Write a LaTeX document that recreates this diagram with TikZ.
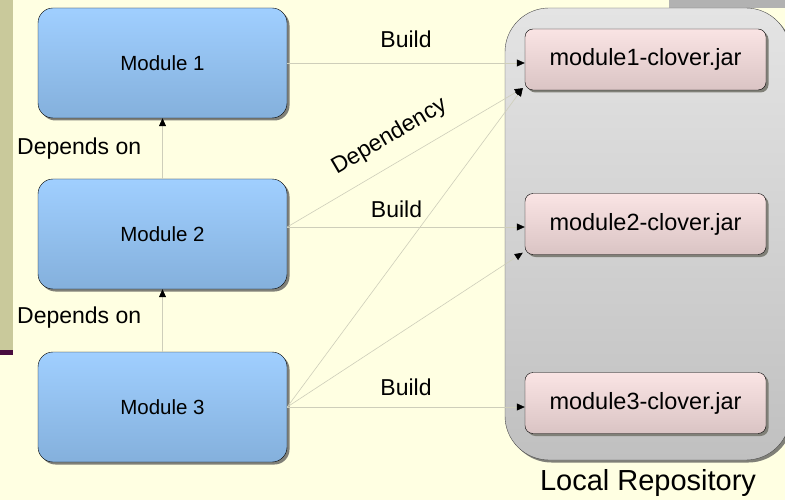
\documentclass[tikz,border=0pt]{standalone}
\usepackage{fontspec}
\setmainfont{Liberation Sans}
\usetikzlibrary{arrows.meta}
\usetikzlibrary{shadows}
\usepackage{xcolor}

\definecolor{pagebg}{RGB}{255,255,226}
\definecolor{stripolive}{RGB}{201,201,155}
\definecolor{barpurple}{RGB}{72,12,62}
\definecolor{tabgray}{RGB}{178,178,178}
\definecolor{modtop}{RGB}{160,207,255}
\definecolor{modbot}{RGB}{132,176,220}
\definecolor{jartop}{RGB}{250,228,228}
\definecolor{jarbot}{RGB}{218,196,196}
\definecolor{repotop}{RGB}{228,228,228}
\definecolor{repobot}{RGB}{192,192,192}
\definecolor{linkgray}{RGB}{206,206,186}
\definecolor{shadowgray}{RGB}{128,128,120}

\begin{document}
\begin{tikzpicture}[x=1pt,y=-1pt,
boxshadow/.style={drop shadow={shadow xshift=2.5pt,shadow yshift=-2.5pt,opacity=1,fill=shadowgray}},
module/.style={draw=black,rounded corners=15pt,minimum width=249pt,minimum height=110pt,
  top color=modtop,bottom color=modbot,font=\fontsize{20.5}{24}\selectfont,boxshadow},
jar/.style={draw=black,rounded corners=8pt,minimum width=241pt,minimum height=61pt,
  top color=jartop,bottom color=jarbot,font=\fontsize{23.5}{26}\selectfont,boxshadow},
repo/.style={draw=black!70,rounded corners=44pt,minimum width=285pt,minimum height=452pt,
  top color=repotop,bottom color=repobot,boxshadow},
link/.style={draw=linkgray,line width=0.6pt,-{Triangle[color=black,fill=black,length=8pt,width=7pt]}},
lbl/.style={font=\fontsize{23}{26}\selectfont,inner sep=3pt}]

% page
\useasboundingbox (0,0) rectangle (785,500);
\fill[pagebg] (0,0) rectangle (785,500);
\fill[stripolive] (0,0) rectangle (13,350);
\fill[barpurple] (0,350) rectangle (13,355);
\fill[tabgray] (669,0) rectangle (785,8);

% local repository
\begin{scope}
\clip (0,0) rectangle (785,500);
\node[repo] (repo) at (647.5,234) {};
\end{scope}
\node[font=\fontsize{29}{32}\selectfont,below=6pt] (repolabel) at (648,460) {Local Repository};

% modules
\node[module] (m1) at (162.5,63) {Module 1};
\node[module] (m2) at (162.5,234) {Module 2};
\node[module] (m3) at (162.5,407) {Module 3};

% jars
\node[jar] (jar1) at (645.5,59.5) {module1-clover.jar};
\node[jar] (jar2) at (645.5,224) {module2-clover.jar};
\node[jar] (jar3) at (645.5,403) {module3-clover.jar};

% depends on
\draw[link] (m2) -- (m1)
  node[lbl,midway,left=18pt] {Depends on};
\draw[link] (m3) -- (m2)
  node[lbl,midway,left=18pt,yshift=3pt] {Depends on};

% builds
\draw[link] (m1.east) -- (m1.east -| jar1.west)
  node[lbl,midway,above=12pt] {Build};
\draw[link] ([yshift=7pt]m2.east) -- ([yshift=7pt]m2.east -| jar2.west)
  node[lbl,pos=0.46,above=6pt] {Build};
\draw[link] (m3.east) -- (m3.east -| jar3.west)
  node[lbl,midway,above=8pt] {Build};

% dependencies
\draw[link] ([yshift=7pt]m2.east) -- ([shift={(-2pt,2pt)}]jar1.south west)
  node[lbl,pos=0.49,sloped,above=12pt] {Dependency};
\draw[link] (m3.east) -- ([shift={(-2pt,2pt)}]jar1.south west);
\draw[link] (m3.east) -- ([shift={(-2pt,2pt)}]jar2.south west);
\end{tikzpicture}
\end{document}
